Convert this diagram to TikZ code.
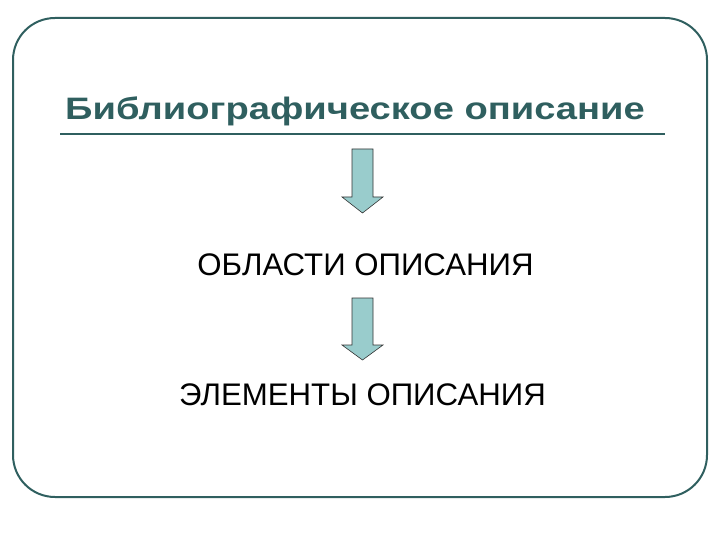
\documentclass[tikz,border=0pt]{standalone}
\usepackage{fontspec}
\setmainfont{Liberation Sans}
\usepackage{graphicx}
\definecolor{frame}{HTML}{2F5F5F}
\definecolor{arrfill}{HTML}{99CCCC}
\tikzset{
  px/.style={x=1pt,y=-1pt},
  dnarrow/.style={fill=arrfill,draw=black!80,line width=0.6pt,line join=miter},
  lbl/.style={font=\fontsize{31.2}{35}\selectfont,anchor=center,inner sep=0pt}
}
\begin{document}
\begin{tikzpicture}[px]
\useasboundingbox (0,0) rectangle (720,540);
\draw[frame,line width=2pt,rounded corners=42pt] (13,18) rectangle (707,497);
\node[font=\fontsize{31}{35}\selectfont\bfseries,text=frame,anchor=base,inner sep=0pt] (title) at (355,120) {\scalebox{1.23}[1]{Библиографическое описание}};
\draw[frame,line width=2pt] (60,134) coordinate (ul) -- (665,134) coordinate (ur);
\draw[dnarrow] (352,149) -- (373,149) -- (373,197) -- (383,197) -- (362.5,213) -- (342,197) -- (352,197) -- cycle;
\node[lbl] (areas) at (365.5,265) {ОБЛАСТИ ОПИСАНИЯ};
\draw[dnarrow] (352,298) -- (373,298) -- (373,345) -- (383,345) -- (362.5,360) -- (342,345) -- (352,345) -- cycle;
\node[lbl] (elems) at (362.5,395) {ЭЛЕМЕНТЫ ОПИСАНИЯ};
\end{tikzpicture}
\end{document}
